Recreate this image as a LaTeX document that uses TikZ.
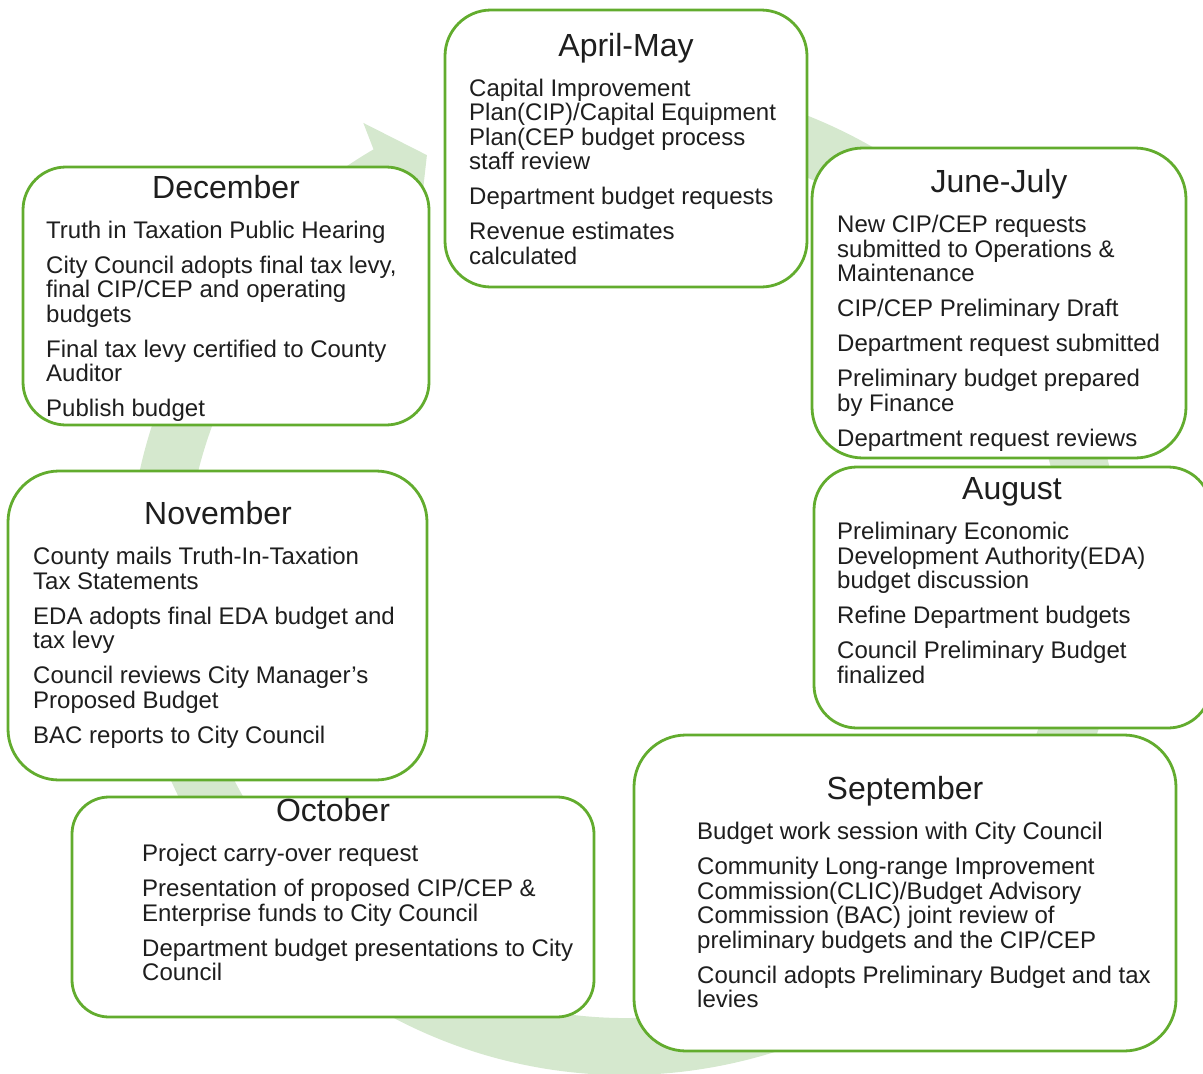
\documentclass[tikz,border=0pt]{standalone}
\usepackage{fontspec}
\setmainfont{Liberation Sans}
\definecolor{boxgreen}{HTML}{62AC2E}
\definecolor{bandgreen}{HTML}{D5E8CE}
\definecolor{ink}{HTML}{1E1E1E}
\newcommand{\itemgap}{\\[10.6pt]}
\begin{document}
\begin{tikzpicture}[x=1pt,y=-1pt,
  box/.style={draw=boxgreen, line width=2.8pt, fill=white, anchor=north west,
              inner sep=0pt, outer sep=0pt},
  title/.style={anchor=base, inner sep=0pt, text=ink,
                font=\fontsize{32}{36}\selectfont},
  body/.style={anchor=base west, inner sep=0pt, text=ink,
               font=\fontsize{24}{24.5}\selectfont},
  band/.style={fill=bandgreen}]
\useasboundingbox (0,0) rectangle (1203,1074);
\clip (0,0) rectangle (1203,1074);

% circular arrow running clockwise behind the month boxes
\begin{scope}[shift={(625pt,-578pt)}, x=1pt, y=1pt]
  \fill[band] (100:497) arc[start angle=100, end angle=-239.6, radius=497]
    -- (-240.1:525) -- (-244.9:467) -- (-240.1:412) -- (-239.6:440)
    arc[start angle=-239.6, end angle=100, radius=440] -- cycle;
\end{scope}

% month boxes
\node[box, minimum width=362pt, minimum height=277pt, rounded corners=46pt] (apr) at (445,10) {};
\node[box, minimum width=406pt, minimum height=258pt, rounded corners=43pt] (dec) at (23,167) {};
\node[box, minimum width=374pt, minimum height=310pt, rounded corners=51pt] (jun) at (812,148) {};
\node[box, minimum width=419pt, minimum height=309pt, rounded corners=51pt] (nov) at (8,471) {};
\node[box, minimum width=397pt, minimum height=261pt, rounded corners=43pt] (aug) at (814,467) {};
\node[box, minimum width=542pt, minimum height=316pt, rounded corners=52pt] (sep) at (634,735) {};
\node[box, minimum width=522pt, minimum height=220pt, rounded corners=37pt] (oct) at (72,797) {};

% titles
\node[title] (aprT) at (626,56.5) {April-May};
\node[title] (decT) at (226,198.5) {December};
\node[title] (junT) at (999,192.5) {June-July};
\node[title] (novT) at (218,524.5) {November};
\node[title] (augT) at (1012,499.5) {August};
\node[title] (sepT) at (905,799.5) {September};
\node[title] (octT) at (333,821.5) {October};

% tasks of each period
\node[body] (aprB) at (469,96) {\parbox[t]{600pt}{\raggedright
  Capital Improvement\\
  Plan(CIP)/Capital Equipment\\
  Plan(CEP budget process\\
  staff review\itemgap
  Department budget requests\itemgap
  Revenue estimates\\
  calculated}};

\node[body] (decB) at (46,238) {\parbox[t]{600pt}{\raggedright
  Truth in Taxation Public Hearing\itemgap
  City Council adopts final tax levy,\\
  final CIP/CEP and operating\\
  budgets\itemgap
  Final tax levy certified to County\\
  Auditor\itemgap
  Publish budget}};

\node[body] (junB) at (837,232.5) {\parbox[t]{600pt}{\raggedright
  New CIP/CEP requests\\
  submitted to Operations \&\\
  Maintenance\itemgap
  CIP/CEP Preliminary Draft\itemgap
  Department request submitted\itemgap
  Preliminary budget prepared\\
  by Finance\itemgap
  Department request reviews}};

\node[body] (novB) at (33,564.5) {\parbox[t]{600pt}{\raggedright
  County mails Truth-In-Taxation\\
  Tax Statements\itemgap
  EDA adopts final EDA budget and\\
  tax levy\itemgap
  Council reviews City Manager’s\\
  Proposed Budget\itemgap
  BAC reports to City Council}};

\node[body] (augB) at (837,539.5) {\parbox[t]{600pt}{\raggedright
  Preliminary Economic\\
  Development Authority(EDA)\\
  budget discussion\itemgap
  Refine Department budgets\itemgap
  Council Preliminary Budget\\
  finalized}};

\node[body] (sepB) at (697,839.5) {\parbox[t]{600pt}{\raggedright
  Budget work session with City Council\itemgap
  Community Long-range Improvement\\
  Commission(CLIC)/Budget Advisory\\
  Commission (BAC) joint review of\\
  preliminary budgets and the CIP/CEP\itemgap
  Council adopts Preliminary Budget and tax\\
  levies}};

\node[body] (octB) at (142,861.5) {\parbox[t]{600pt}{\raggedright
  Project carry-over request\itemgap
  Presentation of proposed CIP/CEP \&\\
  Enterprise funds to City Council\itemgap
  Department budget presentations to City\\
  Council}};
\end{tikzpicture}
\end{document}
